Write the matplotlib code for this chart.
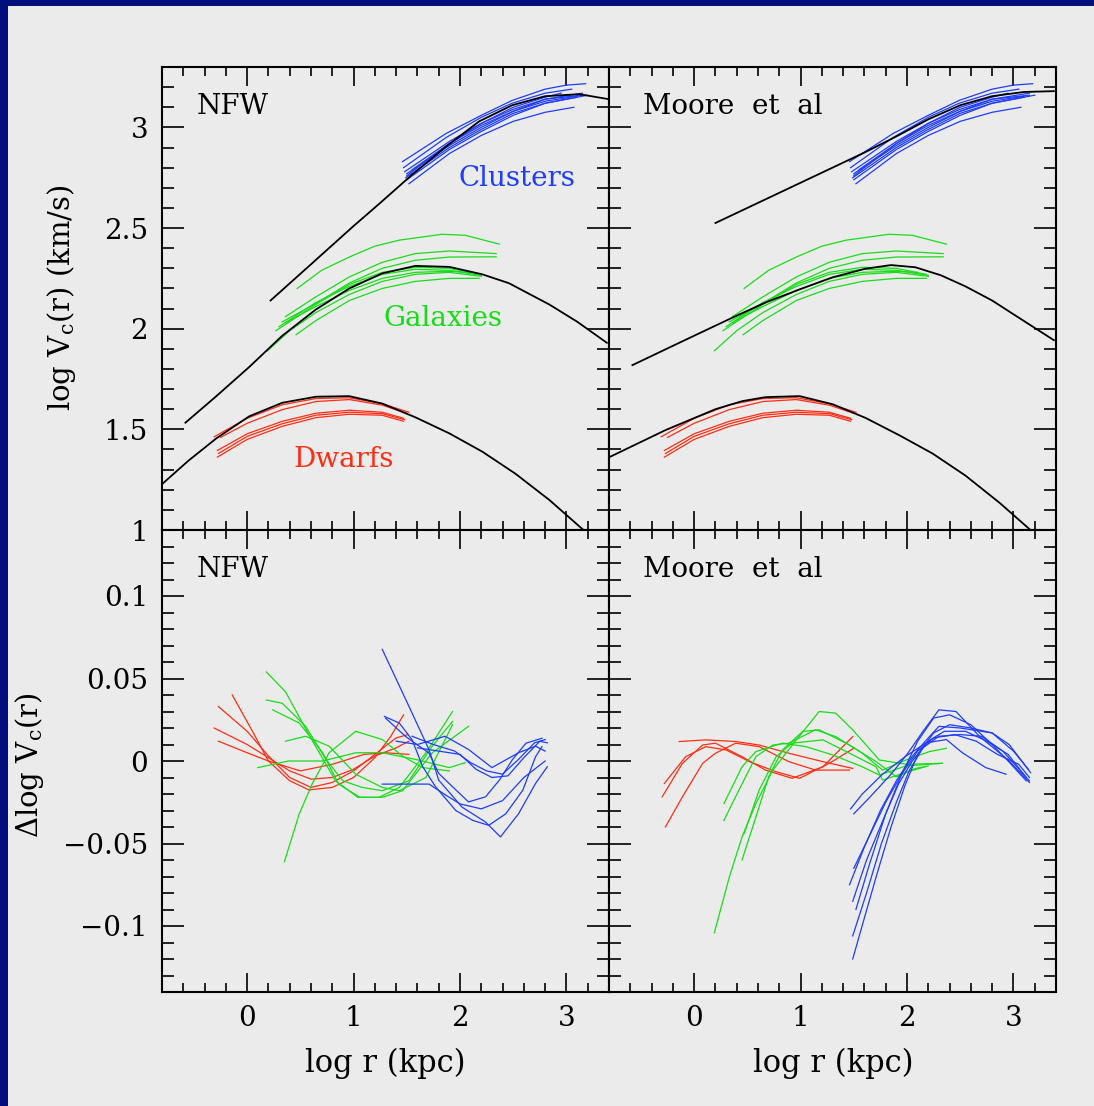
import matplotlib.pyplot as plt
from matplotlib.patches import Rectangle
from matplotlib.ticker import MultipleLocator

plt.rcParams['font.family'] = ['DejaVu Serif']
plt.rcParams['mathtext.fontset'] = 'dejavuserif'

# ---- data ----
# black model fits, top panels (log r, log Vc)
nfw_fit_clu = [(0.22, 2.14), (0.6, 2.32), (1.0, 2.51), (1.24, 2.62), (1.55, 2.765), (1.87, 2.905),
               (2.18, 3.03), (2.49, 3.11), (2.8, 3.155), (3.12, 3.165), (3.4, 3.14)]
nfw_fit_gal = [(-0.58, 1.533), (-0.3, 1.66), (0.02, 1.81), (0.33, 1.965), (0.645, 2.095), (0.96, 2.2),
               (1.27, 2.275), (1.58, 2.312), (1.9, 2.307), (2.21, 2.27), (2.46, 2.226), (2.84, 2.12),
               (3.1, 2.035), (3.38, 1.93)]
nfw_fit_dwf = [(-0.81, 1.223), (-0.55, 1.345), (-0.29, 1.455), (0.02, 1.565), (0.33, 1.632), (0.645, 1.662),
               (0.958, 1.665), (1.27, 1.628), (1.58, 1.56), (1.9, 1.48), (2.21, 1.389), (2.52, 1.28),
               (2.84, 1.149), (3.16, 1.0)]
moore_fit_clu = [(0.2, 2.525), (0.6, 2.625), (1.0, 2.725), (1.3, 2.80), (1.6, 2.875), (1.9, 2.955),
                 (2.2, 3.04), (2.5, 3.11), (2.8, 3.155), (3.1, 3.176), (3.38, 3.18)]
moore_fit_gal = [(-0.58, 1.819), (-0.1, 1.94), (0.36, 2.055), (0.67, 2.13), (0.99, 2.195), (1.3, 2.255),
                 (1.61, 2.298), (1.85, 2.316), (2.08, 2.305), (2.32, 2.265), (2.55, 2.21), (2.8, 2.14),
                 (3.02, 2.065), (3.38, 1.943)]
moore_fit_dwf = [(-0.8, 1.361), (-0.27, 1.496), (0.2, 1.60), (0.45, 1.64), (0.67, 1.66), (0.99, 1.665),
                 (1.3, 1.625), (1.61, 1.557), (1.93, 1.47), (2.24, 1.38), (2.55, 1.27), (2.87, 1.135),
                 (3.16, 1.0)]

# observed rotation curves (same in both top panels)
clusters = [
    [(1.46, 2.83), (1.87, 2.97), (2.2, 3.06), (2.49, 3.134), (2.8, 3.19), (3.0, 3.21), (3.18, 3.217)],
    [(1.47, 2.80), (1.87, 2.95), (2.2, 3.05), (2.49, 3.12), (2.8, 3.17), (3.05, 3.19)],
    [(1.48, 2.78), (1.9, 2.93), (2.2, 3.02), (2.5, 3.09), (2.8, 3.14), (3.15, 3.17)],
    [(1.50, 2.76), (1.9, 2.92), (2.2, 3.01), (2.5, 3.08), (2.8, 3.13), (3.1, 3.155)],
    [(1.49, 2.75), (1.9, 2.90), (2.2, 2.99), (2.5, 3.07), (2.8, 3.12), (3.1, 3.15)],
    [(1.52, 2.72), (1.9, 2.87), (2.2, 2.96), (2.5, 3.03), (2.8, 3.075), (3.07, 3.10)],
    [(1.50, 2.77), (1.9, 2.91), (2.2, 3.00), (2.5, 3.08), (2.8, 3.14), (3.15, 3.16)],
    [(1.55, 2.79), (1.9, 2.92), (2.2, 3.02), (2.5, 3.10), (2.8, 3.15), (2.95, 3.17)],
    [(1.50, 2.74), (1.9, 2.89), (2.2, 2.98), (2.5, 3.06), (2.8, 3.12), (3.2, 3.16)],
]
galaxies = [
    [(0.47, 2.20), (0.7, 2.29), (0.96, 2.356), (1.2, 2.41), (1.43, 2.44), (1.83, 2.469), (2.05, 2.464), (2.37, 2.42)],
    [(0.36, 2.06), (0.645, 2.158), (0.96, 2.257), (1.27, 2.33), (1.58, 2.373), (1.9, 2.386), (2.34, 2.373)],
    [(0.33, 2.034), (0.645, 2.125), (0.96, 2.227), (1.27, 2.30), (1.58, 2.34), (1.9, 2.356), (2.34, 2.357)],
    [(0.27, 1.99), (0.645, 2.12), (0.96, 2.22), (1.27, 2.28), (1.58, 2.305), (1.9, 2.30), (2.18, 2.27)],
    [(0.30, 2.01), (0.645, 2.13), (0.96, 2.21), (1.27, 2.27), (1.58, 2.295), (1.9, 2.29), (2.2, 2.265)],
    [(0.36, 2.03), (0.645, 2.11), (0.96, 2.19), (1.27, 2.25), (1.58, 2.28), (1.9, 2.285), (2.1, 2.28)],
    [(0.46, 1.97), (0.645, 2.04), (0.96, 2.14), (1.27, 2.20), (1.58, 2.235), (1.9, 2.25), (2.18, 2.25)],
    [(0.19, 1.89), (0.4, 1.99), (0.645, 2.08), (0.96, 2.17), (1.27, 2.235), (1.58, 2.27), (1.9, 2.28), (2.2, 2.26)],
]
dwarfs = [
    [(-0.31, 1.463), (0.0, 1.555), (0.33, 1.622), (0.645, 1.653), (0.96, 1.657), (1.27, 1.627), (1.52, 1.585)],
    [(-0.25, 1.46), (0.0, 1.53), (0.33, 1.598), (0.645, 1.638), (0.96, 1.648), (1.27, 1.62), (1.5, 1.58)],
    [(-0.28, 1.395), (0.0, 1.478), (0.33, 1.54), (0.645, 1.58), (0.96, 1.595), (1.27, 1.585), (1.47, 1.555)],
    [(-0.28, 1.362), (0.0, 1.45), (0.33, 1.515), (0.645, 1.558), (0.96, 1.575), (1.27, 1.57), (1.47, 1.54)],
    [(-0.27, 1.38), (0.0, 1.465), (0.33, 1.528), (0.645, 1.57), (0.96, 1.585), (1.27, 1.578), (1.48, 1.548)],
]

# residuals, NFW (bottom left)
nfw_res_dwf = [
    [(-0.14, 0.040), (0.05, 0.018), (0.2, 0.0), (0.4, -0.012), (0.58, -0.0175), (0.8, -0.016), (1.0, -0.010),
     (1.2, 0.002), (1.35, 0.015), (1.47, 0.028)],
    [(-0.27, 0.033), (0.0, 0.018), (0.2, 0.003), (0.4, -0.010), (0.6, -0.016), (0.8, -0.013), (1.0, -0.006),
     (1.2, 0.004), (1.4, 0.014), (1.51, 0.016)],
    [(-0.31, 0.020), (0.0, 0.010), (0.2, 0.002), (0.4, -0.006), (0.6, -0.011), (0.8, -0.010), (1.0, -0.005),
     (1.2, 0.003), (1.4, 0.008), (1.52, 0.012)],
    [(-0.27, 0.012), (0.0, 0.005), (0.2, 0.0), (0.5, -0.006), (0.8, -0.002), (1.1, 0.004), (1.3, 0.005),
     (1.52, 0.004)],
]
nfw_res_gal = [
    [(0.18, 0.054), (0.36, 0.042), (0.58, 0.016), (0.83, -0.012), (1.04, -0.022), (1.24, -0.022),
     (1.43, -0.016), (1.68, 0.005), (1.93, 0.030)],
    [(0.18, 0.037), (0.33, 0.035), (0.55, 0.021), (0.74, 0.001), (0.9, -0.012), (1.08, -0.016),
     (1.27, -0.018), (1.52, -0.012), (1.74, 0.009), (1.93, 0.024)],
    [(0.24, 0.031), (0.49, 0.023), (0.71, 0.005), (0.86, -0.014), (1.06, -0.022), (1.27, -0.022),
     (1.46, -0.018), (1.74, 0.005), (2.08, 0.021)],
    [(0.35, -0.061), (0.49, -0.032), (0.61, -0.014), (0.77, 0.005), (1.02, 0.018), (1.27, 0.013),
     (1.46, 0.003), (1.65, -0.004), (1.9, -0.006)],
    [(0.10, -0.004), (0.39, 0.0), (0.71, 0.0), (1.02, 0.005), (1.27, 0.005), (1.58, 0.001), (1.9, -0.004),
     (2.05, -0.001)],
    [(0.36, 0.012), (0.55, 0.015), (0.77, 0.009), (1.02, -0.008), (1.27, -0.016), (1.43, -0.018),
     (1.68, -0.010), (1.93, 0.022)],
]
nfw_res_clu = [
    [(1.27, 0.0676), (1.55, 0.029), (1.71, 0.0067), (1.80, -0.0116), (2.02, -0.028), (2.24, -0.037),
     (2.38, -0.046), (2.55, -0.032), (2.71, -0.0136), (2.82, -0.0035)],
    [(1.29, 0.027), (1.43, 0.023), (1.55, 0.0128), (1.65, -0.0035), (1.77, -0.0156), (1.96, -0.030),
     (2.12, -0.036), (2.27, -0.039), (2.43, -0.032), (2.59, -0.0177), (2.71, 0.0026), (2.77, 0.0087)],
    [(1.30, 0.026), (1.49, 0.0148), (1.71, 0.0047), (1.80, -0.0075), (1.93, -0.0156), (2.08, -0.0248),
     (2.24, -0.0217), (2.37, -0.0116), (2.49, 0.0006), (2.62, 0.0108), (2.77, 0.0138)],
    [(1.40, 0.012), (1.6, 0.010), (1.86, 0.015), (2.08, 0.007), (2.3, -0.004), (2.55, 0.005), (2.71, 0.009),
     (2.8, 0.006)],
    [(1.27, -0.014), (1.5, -0.014), (1.71, -0.014), (1.85, -0.020), (2.0, -0.026), (2.2, -0.029),
     (2.4, -0.024), (2.6, -0.010), (2.8, 0.0)],
    [(1.6, 0.008), (1.8, 0.006), (2.0, 0.004), (2.15, -0.005), (2.3, -0.010), (2.45, -0.009), (2.6, 0.002),
     (2.75, 0.012), (2.82, 0.011)],
    [(1.55, 0.015), (1.75, 0.010), (1.95, 0.006), (2.1, -0.001), (2.25, -0.006), (2.4, -0.008), (2.55, 0.001),
     (2.7, 0.011), (2.8, 0.013)],
]

# residuals, Moore (bottom right)
moore_res_dwf = [
    [(-0.14, 0.0118), (0.11, 0.0128), (0.39, 0.0118), (0.61, 0.0097), (0.89, 0.0047), (1.21, -0.0004),
     (1.49, -0.0045)],
    [(-0.30, -0.0217), (-0.11, -0.0014), (0.08, 0.0097), (0.2, 0.0108), (0.45, 0.0026), (0.67, -0.0055),
     (0.92, -0.0105), (1.21, -0.0035), (1.49, 0.0148)],
    [(-0.28, -0.0136), (-0.08, 0.0026), (0.11, 0.0087), (0.30, 0.0067), (0.52, -0.0004), (0.77, -0.0065),
     (0.99, -0.0105), (1.27, -0.0014), (1.50, 0.0077)],
    [(-0.27, -0.040), (-0.11, -0.0217), (0.08, -0.0014), (0.2, 0.0047), (0.39, 0.0108), (0.61, 0.0087),
     (0.89, -0.0004), (1.14, -0.0055), (1.46, -0.0055)],
]
moore_res_gal = [
    [(0.19, -0.104), (0.33, -0.0705), (0.45, -0.046), (0.58, -0.0258), (0.74, -0.0055), (0.96, 0.0128),
     (1.175, 0.030), (1.33, 0.029), (1.49, 0.0189), (1.74, 0.0006), (2.0, -0.002), (2.33, -0.0014)],
    [(0.28, -0.036), (0.42, -0.0177), (0.58, 0.0026), (0.74, 0.0097), (0.89, 0.0108), (1.14, 0.0189),
     (1.33, 0.0148), (1.58, 0.0047), (1.77, -0.0055), (1.99, 0.0006), (2.21, 0.0057), (2.37, 0.0077)],
    [(0.28, -0.0258), (0.45, -0.0035), (0.58, 0.0057), (0.83, 0.0108), (1.05, 0.0087), (1.30, 0.0037),
     (1.58, -0.0035), (1.74, -0.0085), (1.99, -0.003), (2.33, -0.0014)],
    [(0.45, -0.060), (0.58, -0.034), (0.70, -0.0096), (0.83, 0.0067), (1.02, 0.0179), (1.175, 0.0189),
     (1.46, 0.0097), (1.71, -0.0004), (1.90, -0.0096), (2.08, -0.0045), (2.2, -0.003)],
    [(0.47, -0.044), (0.61, -0.0177), (0.77, 0.0026), (0.92, 0.0108), (1.21, 0.0128), (1.46, 0.0047),
     (1.71, -0.0035), (1.77, -0.0116), (1.96, -0.0075), (2.17, -0.0035)],
]
moore_res_clu = [
    [(1.47, -0.029), (1.58, -0.020), (1.77, -0.008), (1.99, 0.003), (2.18, 0.011), (2.37, 0.013), (2.52, 0.005),
     (2.74, -0.004), (2.93, -0.008)],
    [(1.50, -0.032), (1.65, -0.022), (1.85, -0.008), (2.0, 0.004), (2.15, 0.018), (2.3, 0.031), (2.46, 0.030),
     (2.68, 0.015), (2.96, 0.0), (3.15, -0.013)],
    [(1.46, -0.075), (1.6, -0.052), (1.75, -0.030), (1.9, -0.012), (2.05, 0.003), (2.2, 0.014), (2.3, 0.021),
     (2.5, 0.020), (2.8, 0.017), (2.96, 0.010), (3.16, -0.007)],
    [(1.49, -0.085), (1.62, -0.060), (1.78, -0.035), (1.92, -0.014), (2.05, 0.0), (2.2, 0.012), (2.35, 0.018),
     (2.55, 0.018), (2.75, 0.012), (2.95, 0.004), (3.12, -0.010)],
    [(1.49, -0.106), (1.62, -0.080), (1.76, -0.050), (1.9, -0.025), (2.02, -0.006), (2.15, 0.008), (2.3, 0.015),
     (2.5, 0.016), (2.7, 0.015), (2.9, 0.006), (3.15, -0.012)],
    [(1.49, -0.120), (1.6, -0.095), (1.72, -0.068), (1.85, -0.040), (1.98, -0.015), (2.1, 0.004), (2.25, 0.017),
     (2.4, 0.022), (2.6, 0.020), (2.8, 0.017), (3.0, 0.006), (3.14, -0.005)],
    [(1.5, -0.065), (1.65, -0.045), (1.8, -0.025), (1.95, -0.008), (2.1, 0.006), (2.25, 0.014), (2.45, 0.016),
     (2.65, 0.012), (2.85, 0.004), (3.05, -0.002), (3.15, -0.010)],
    [(1.52, -0.090), (1.65, -0.062), (1.8, -0.032), (1.95, -0.008), (2.1, 0.012), (2.25, 0.026), (2.4, 0.028),
     (2.6, 0.022), (2.8, 0.010), (2.95, 0.0), (3.12, -0.012)],
]

xticks = [0, 1, 2, 3]
top_yticks = [1, 1.5, 2, 2.5, 3]
bot_yticks = [-0.1, -0.05, 0, 0.05, 0.1]

BLUE = '#1e3cff'
GREEN = '#18dc18'
RED = '#ff2d14'
BG = '#ebebeb'

W, H = 1094, 1106
fig = plt.figure(figsize=(W / 100, H / 100), dpi=100, facecolor='#000f7a')
fig.add_artist(Rectangle((8 / W, 0), 1, 1 - 6 / H, transform=fig.transFigure,
                         facecolor=BG, edgecolor='none', zorder=-10))

def panel(l, b, w, h):
    ax = fig.add_axes([l / W, 1 - (b + h) / H, w / W, h / H])
    ax.set_facecolor(BG)
    for s in ax.spines.values():
        s.set_linewidth(1.5)
    ax.set_xlim(-0.8, 3.4)
    ax.xaxis.set_minor_locator(MultipleLocator(0.2))
    ax.tick_params(which='both', direction='in', top=True, right=True, width=1.2, labelsize=20)
    ax.tick_params(axis='x', which='major', length=14, pad=9)
    ax.tick_params(axis='x', which='minor', length=6.5)
    ax.tick_params(axis='y', which='major', length=16, pad=10)
    ax.tick_params(axis='y', which='minor', length=8.5)
    return ax

def draw(ax, curves, color, lw=0.9):
    for c in curves:
        xs, ys = zip(*c)
        ax.plot(xs, ys, color=color, lw=lw)

fmt = lambda v: f'{v:g}'.replace('-', '\u2212')
ax_tl = panel(162, 67, 447, 463)
ax_tr = panel(609, 67, 447, 463)
ax_bl = panel(162, 530, 447, 462)
ax_br = panel(609, 530, 447, 462)

for ax in (ax_tl, ax_tr):
    ax.set_ylim(1, 3.3)
    ax.yaxis.set_minor_locator(MultipleLocator(0.1))
    ax.set_yticks(top_yticks, [fmt(v) for v in top_yticks])
    ax.set_xticks(xticks, [])
    draw(ax, clusters, BLUE)
    draw(ax, galaxies, GREEN)
    draw(ax, dwarfs, RED)
for ax in (ax_bl, ax_br):
    ax.set_ylim(-0.14, 0.14)
    ax.yaxis.set_minor_locator(MultipleLocator(0.01))
    ax.set_yticks(bot_yticks, [fmt(v) for v in bot_yticks])
    ax.set_xticks(xticks, [fmt(v) for v in xticks])
ax_tr.tick_params(labelleft=False)
ax_br.tick_params(labelleft=False)

for fit in (nfw_fit_clu, nfw_fit_gal, nfw_fit_dwf):
    xs, ys = zip(*fit)
    ax_tl.plot(xs, ys, color='black', lw=1.3)
for fit in (moore_fit_clu, moore_fit_gal, moore_fit_dwf):
    xs, ys = zip(*fit)
    ax_tr.plot(xs, ys, color='black', lw=1.3)

draw(ax_bl, nfw_res_dwf, RED)
draw(ax_bl, nfw_res_gal, GREEN)
draw(ax_bl, nfw_res_clu, BLUE)
draw(ax_br, moore_res_dwf, RED)
draw(ax_br, moore_res_gal, GREEN)
draw(ax_br, moore_res_clu, BLUE)

for ax, name in ((ax_tl, 'NFW'), (ax_tr, 'Moore  et  al'), (ax_bl, 'NFW'), (ax_br, 'Moore  et  al')):
    ax.text(0.077, 0.915, name, transform=ax.transAxes, fontsize=20, ha='left', va='center')

ax_tl.text(2.535, 2.747, 'Clusters', color=BLUE, fontsize=20, ha='center', va='center')
ax_tl.text(1.84, 2.052, 'Galaxies', color=GREEN, fontsize=20, ha='center', va='center')
ax_tl.text(0.91, 1.352, 'Dwarfs', color=RED, fontsize=20, ha='center', va='center')

fig.text(62 / W, 1 - 298 / H, r'log V$_\mathrm{c}$(r) (km/s)', rotation=90, fontsize=21,
         ha='center', va='center')
fig.text(30 / W, 1 - 765 / H, r'$\Delta$log V$_\mathrm{c}$(r)', rotation=90, fontsize=21,
         ha='center', va='center')
fig.text(385 / W, 1 - 1063 / H, 'log r (kpc)', fontsize=22, ha='center', va='center')
fig.text(833 / W, 1 - 1063 / H, 'log r (kpc)', fontsize=22, ha='center', va='center')

fig.savefig('out.png', dpi=100, facecolor=fig.get_facecolor())
